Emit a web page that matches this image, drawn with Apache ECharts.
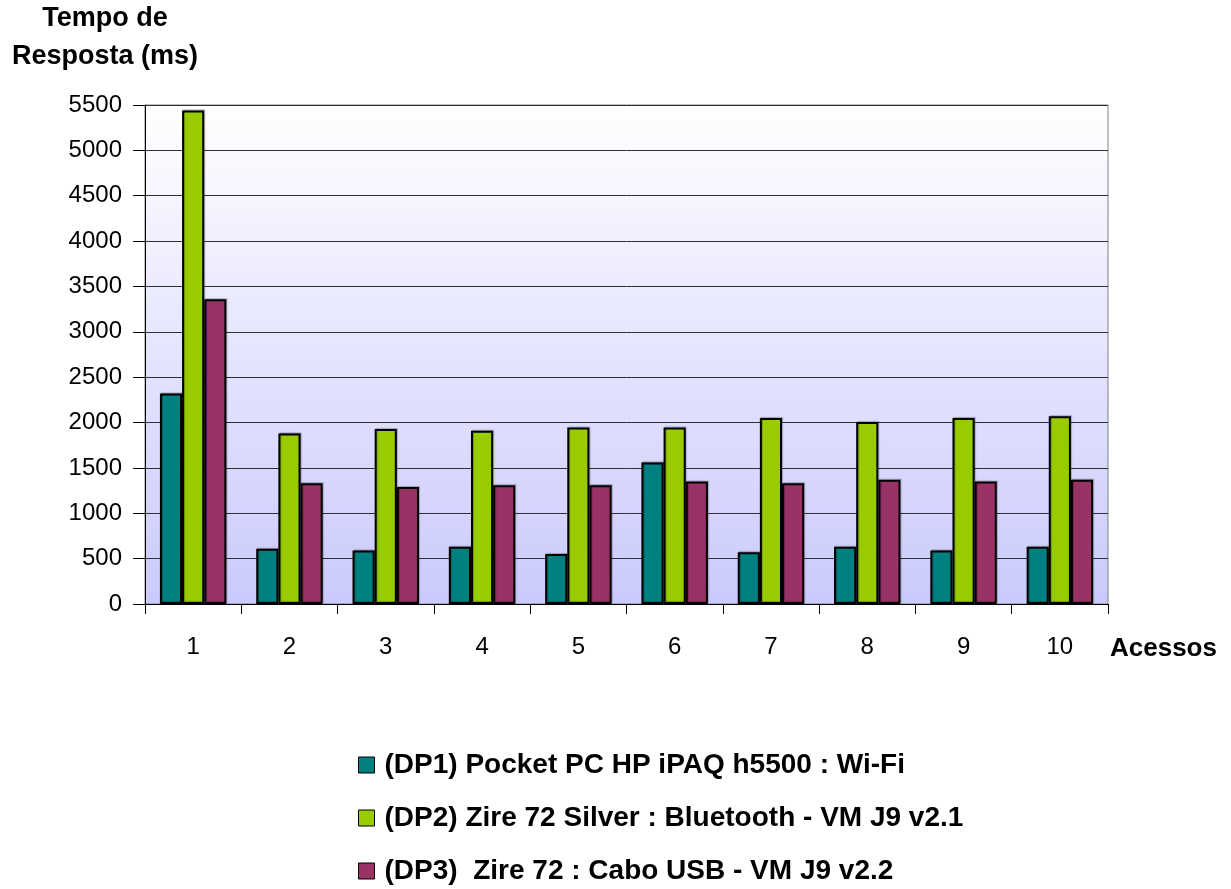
<!DOCTYPE html>
<html>
<head>
<meta charset="utf-8">
<script src="https://cdn.jsdelivr.net/npm/echarts@6/dist/echarts.min.js"></script>
<style>
  html, body { margin: 0; padding: 0; background: #ffffff; }
  #chart { width: 1231px; height: 889px; }
</style>
</head>
<body>
<div id="chart"></div>
<script>
// Response time per access, three device profiles
const categories = ['1', '2', '3', '4', '5', '6', '7', '8', '9', '10'];
const dp1Values = [2320, 610, 590, 630, 550, 1560, 570, 630, 590, 630];
const dp2Values = [5440, 1880, 1930, 1910, 1945, 1945, 2050, 2005, 2050, 2070];
const dp3Values = [3360, 1330, 1290, 1310, 1310, 1350, 1330, 1370, 1350, 1370];
const seriesNames = [
  '(DP1) Pocket PC HP iPAQ h5500 : Wi-Fi',
  '(DP2) Zire 72 Silver : Bluetooth - VM J9 v2.1',
  '(DP3)  Zire 72 : Cabo USB - VM J9 v2.2'
];
const seriesColors = ['#008080', '#99cc00', '#993366'];

const FONT = 'Liberation Sans, Arial, sans-serif';
const chart = echarts.init(document.getElementById('chart'), null, { renderer: 'canvas' });

function barSeries(name, data, color) {
  return {
    name: name,
    type: 'bar',
    data: data,
    barGap: '0%',
    barCategoryGap: '31%',
    itemStyle: {
      color: color, borderColor: '#000000', borderWidth: 2,
      shadowColor: 'rgba(0,0,0,0.25)', shadowOffsetX: 1, shadowOffsetY: -1, shadowBlur: 1
    },
    emphasis: { disabled: true }
  };
}

chart.setOption({
  animation: false,
  textStyle: { fontFamily: FONT },
  grid: {
    left: 145, top: 105, width: 963, height: 499,
    show: true,
    borderColor: '#808080',
    borderWidth: 1,
    backgroundColor: {
      type: 'linear', x: 0, y: 0, x2: 0, y2: 1,
      colorStops: [
        { offset: 0, color: '#ffffff' },
        { offset: 1, color: '#cacafd' }
      ]
    }
  },
  legend: {
    orient: 'vertical',
    left: 353,
    top: 746,
    height: 140,
    itemGap: 25,
    itemWidth: 16,
    itemHeight: 16,
    icon: 'rect',
    itemStyle: { borderColor: '#000000', borderWidth: 1 },
    textStyle: { fontSize: 28, fontWeight: 'bold', color: '#000000', padding: [0, 0, 0, 5] },
    data: seriesNames
  },
  xAxis: {
    type: 'category',
    data: categories,
    axisLine: { lineStyle: { color: '#000000', width: 1 } },
    axisTick: { show: true, length: 10, lineStyle: { color: '#000000' } },
    axisLabel: { fontSize: 24, color: '#000000', margin: 31 },
    splitLine: { show: false }
  },
  yAxis: {
    type: 'value',
    min: 0,
    max: 5500,
    interval: 500,
    axisLine: { show: true, lineStyle: { color: '#000000', width: 1 } },
    axisTick: { show: true, length: 12, lineStyle: { color: '#000000' } },
    axisLabel: { fontSize: 24, color: '#000000', margin: 23, formatter: v => String(v) },
    splitLine: { show: true, lineStyle: { color: '#303030', width: 1 } }
  },
  graphic: [
    {
      type: 'text', x: 105, y: 5,
      style: { text: 'Tempo de', fontSize: 27, fontWeight: 'bold', fill: '#000000',
               fontFamily: FONT, align: 'center' }
    },
    {
      type: 'text', x: 105, y: 43,
      style: { text: 'Resposta (ms)', fontSize: 27, fontWeight: 'bold', fill: '#000000',
               fontFamily: FONT, align: 'center' }
    },
    {
      type: 'text', x: 1110, y: 636,
      style: { text: 'Acessos', fontSize: 26, fontWeight: 'bold', fill: '#000000',
               fontFamily: FONT }
    }
  ],
  series: [
    barSeries(seriesNames[0], dp1Values, seriesColors[0]),
    barSeries(seriesNames[1], dp2Values, seriesColors[1]),
    barSeries(seriesNames[2], dp3Values, seriesColors[2])
  ]
});
</script>
</body>
</html>
